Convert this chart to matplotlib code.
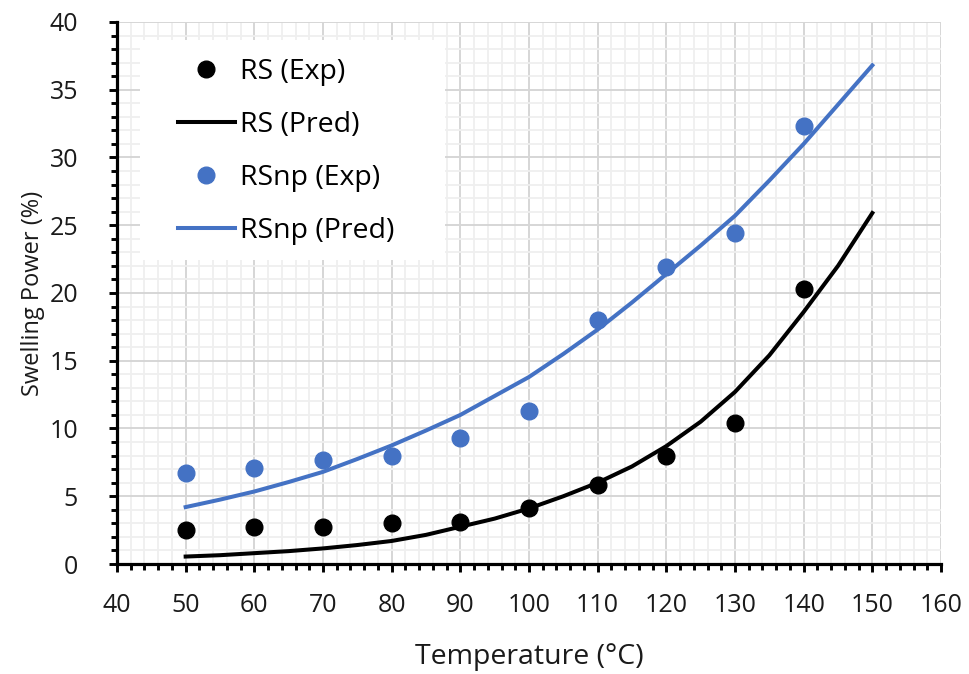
import numpy as np
import matplotlib.pyplot as plt
from matplotlib.patches import Rectangle
from matplotlib.ticker import MultipleLocator

# measured swelling power (%) at each temperature
temp_exp = [50, 60, 70, 80, 90, 100, 110, 120, 130, 140]
rs_exp = [2.5, 2.7, 2.7, 3.0, 3.1, 4.1, 5.8, 8.0, 10.4, 20.3]
rsnp_exp = [6.7, 7.1, 7.7, 8.0, 9.3, 11.3, 18.0, 21.9, 24.4, 32.3]

# model predictions
temp_pred = [50, 55, 60, 65, 70, 75, 80, 85, 90, 95, 100,
             105, 110, 115, 120, 125, 130, 135, 140, 145, 150]
rs_pred = [0.55, 0.65, 0.8, 0.95, 1.15, 1.4, 1.7, 2.15, 2.75, 3.35, 4.1,
           5.0, 6.0, 7.2, 8.7, 10.5, 12.7, 15.4, 18.6, 22.0, 25.9]
rsnp_pred = [4.2, 4.75, 5.35, 6.05, 6.8, 7.75, 8.75, 9.85, 11.0, 12.4, 13.8,
             15.5, 17.3, 19.3, 21.4, 23.5, 25.7, 28.3, 31.0, 33.9, 36.8]

BLUE = '#4472C4'
TXT = '#1a1a1a'

plt.rcParams['font.family'] = ['Open Sans', 'DejaVu Sans']

fig = plt.figure(figsize=(9.7, 6.74), dpi=100)
ax = fig.add_axes([0.1206, 0.1632, 0.8495, 0.8042])

ax.plot(temp_exp, rs_exp, 'o', color='black', ms=12, label='RS (Exp)', zorder=4)
ax.plot(temp_pred, rs_pred, '-', color='black', lw=2.9, label='RS (Pred)', zorder=3)
ax.plot(temp_exp, rsnp_exp, 'o', color=BLUE, ms=12, label='RSnp (Exp)', zorder=4)
ax.plot(temp_pred, rsnp_pred, '-', color=BLUE, lw=2.9, label='RSnp (Pred)', zorder=3)

ax.set_xlim(40, 160)
ax.set_ylim(0, 40)
ax.xaxis.set_major_locator(MultipleLocator(10))
ax.xaxis.set_minor_locator(MultipleLocator(2))
ax.yaxis.set_major_locator(MultipleLocator(5))
ax.yaxis.set_minor_locator(MultipleLocator(1))

ax.grid(which='minor', color='#efefef', lw=1.3, zorder=0)
ax.grid(which='major', color='#d6d6d6', lw=1.4, zorder=1)
ax.set_axisbelow(True)

for side in ['top', 'right']:
    ax.spines[side].set_visible(False)
for side in ['left', 'bottom']:
    ax.spines[side].set_linewidth(2.3)
    ax.spines[side].set_color('black')

ax.tick_params(which='major', direction='out', length=6, width=2.1, labelsize=18,
               labelcolor=TXT)
ax.tick_params(which='minor', direction='out', length=4, width=2.1)
ax.tick_params(axis='x', which='major', pad=15)
ax.tick_params(axis='y', which='major', pad=22)

ax.set_xlabel('Temperature (°C)', fontsize=20.5, color=TXT, labelpad=18)
ax.set_ylabel('Swelling Power (%)', fontsize=17, color=TXT, labelpad=3)

# white panel behind the legend, hiding the grid
ax.add_patch(Rectangle((0.028, 0.561), 0.370, 0.406, transform=ax.transAxes,
                       facecolor='white', edgecolor='none', zorder=2))

ax.legend(loc='upper left', bbox_to_anchor=(0.074, 0.934), fontsize=20.5,
          frameon=False, handlelength=2.0, handletextpad=0.18,
          labelspacing=0.88, borderpad=0, borderaxespad=0)

fig.savefig('out.png', dpi=100, facecolor='white')
